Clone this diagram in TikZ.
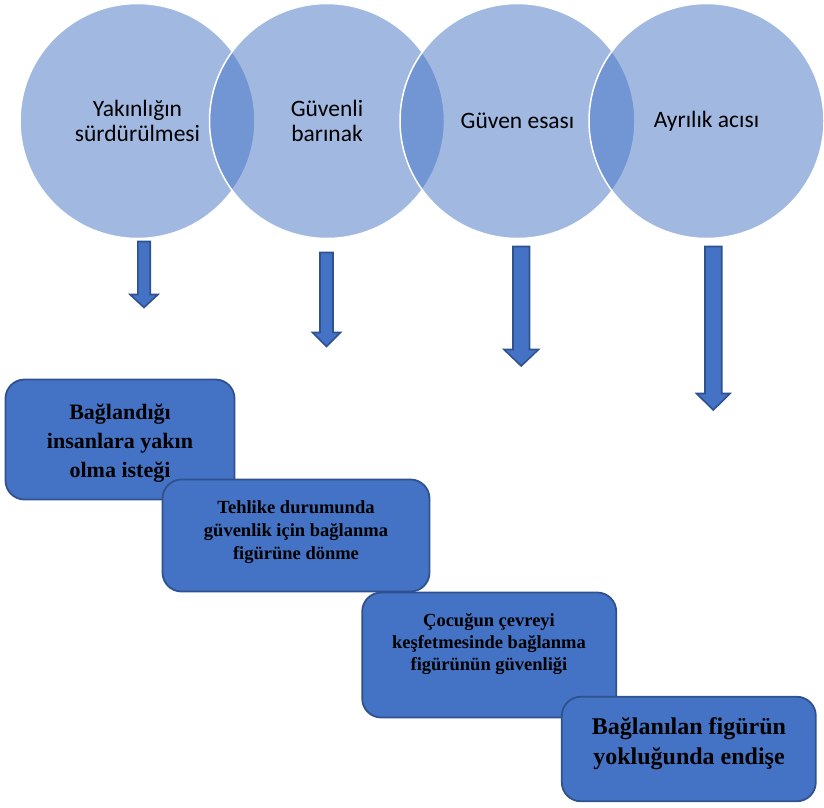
\documentclass[tikz,border=0pt]{standalone}
\usepackage{fontspec}
\setmainfont{Liberation Serif}
\newfontfamily\circfont{Carlito}
\definecolor{accblue}{HTML}{4472C4}
\definecolor{darkblue}{HTML}{2F528F}
\begin{document}
\begin{tikzpicture}[x=1pt,y=-1pt,
  venn/.style={circle, minimum size=235pt, inner sep=0pt, fill=accblue, fill opacity=0.5, text opacity=1, draw=white, line width=1.5pt, align=center, font=\circfont\fontsize{23.5}{25}\selectfont, text=black},
  blockarrow/.style={fill=accblue, draw=darkblue, line width=1.6pt, line join=miter},
  stepbox/.style={rectangle, rounded corners=19pt, fill=accblue, draw=darkblue, line width=1.8pt, inner sep=0pt},
  boxtext/.style={align=center, inner sep=0pt, text=black, font=\bfseries}
]
\useasboundingbox (0,0) rectangle (824,807);

% circles
\node[venn] (c1) at (137.5,121) {Yakınlığın\\sürdürülmesi};
\node[venn] (c2) at (327,121) {Güvenli\\barınak};
\node[venn] (c3) at (517.5,121) {Güven esası};
\node[venn] (c4) at (706.5,121) {Ayrılık acısı};

% block arrows
\draw[blockarrow] (137.8,241.5) -- (150.2,241.5) -- (150.2,294.5) -- (158,294.5) -- (144,307.5) -- (130,294.5) -- (137.8,294.5) -- cycle;
\draw[blockarrow] (320,252.5) -- (333,252.5) -- (333,332.5) -- (340.5,332.5) -- (326.5,346.5) -- (312.5,332.5) -- (320,332.5) -- cycle;
\draw[blockarrow] (513,246.5) -- (529.5,246.5) -- (529.5,349.5) -- (538.5,349.5) -- (521.2,366) -- (504,349.5) -- (513,349.5) -- cycle;
\draw[blockarrow] (705,246.5) -- (721.7,246.5) -- (721.7,393.5) -- (730,393.5) -- (713.3,410) -- (696.5,393.5) -- (705,393.5) -- cycle;

% boxes
\node[stepbox, minimum width=229pt, minimum height=120pt] (b1) at (120,439.5) {};
\node[boxtext, font=\bfseries\fontsize{22}{29}\selectfont] (t1) at (120,443.5) {Bağlandığı\\insanlara yakın\\olma isteği};

\node[stepbox, minimum width=267pt, minimum height=112pt] (b2) at (296,535.5) {};
\node[boxtext, font=\bfseries\fontsize{18.5}{23}\selectfont] (t2) at (296,532) {Tehlike durumunda\\güvenlik için bağlanma\\figürüne dönme};

\node[stepbox, minimum width=254pt, minimum height=125pt] (b3) at (489.2,655) {};
\node[boxtext, font=\bfseries\fontsize{18.5}{21.7}\selectfont] (t3) at (489,644) {Çocuğun çevreyi\\keşfetmesinde bağlanma\\figürünün güvenliği};

\node[stepbox, minimum width=254pt, minimum height=104.5pt] (b4) at (688.8,749) {};
\node[boxtext, font=\bfseries\fontsize{24}{29.3}\selectfont] (t4) at (689,743.8) {Bağlanılan figürün\\yokluğunda endişe};
\end{tikzpicture}
\end{document}
